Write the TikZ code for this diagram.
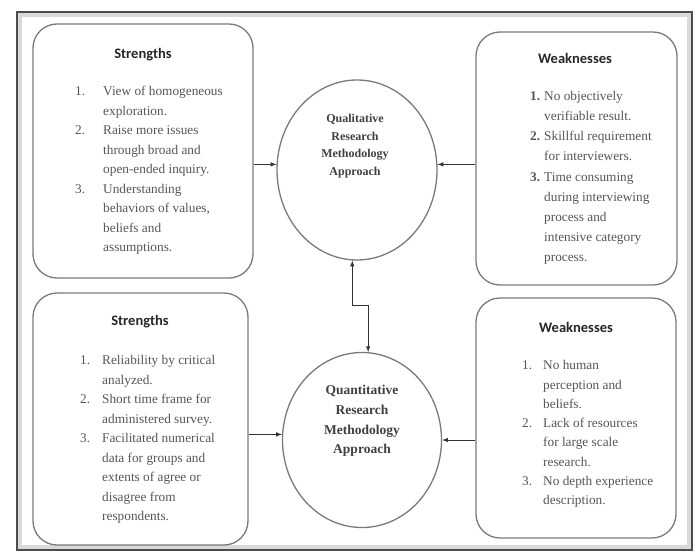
\documentclass[tikz,border=0pt]{standalone}
\usepackage{fontspec}
\setmainfont{Liberation Serif}
\newfontfamily\headfont{Carlito}
\usetikzlibrary{shapes.geometric}
\definecolor{boxgray}{HTML}{7A7A7A}
\definecolor{txtgray}{HTML}{555555}

\begin{document}
\begin{tikzpicture}[x=1pt,y=-1pt,
>=latex,
box/.style={rectangle,rounded corners=24pt,draw=boxgray,line width=1.3pt},
approach/.style={ellipse,draw=boxgray,line width=1.3pt,inner sep=0pt},
head/.style={font=\headfont\fontsize{14.5}{17}\selectfont\bfseries,text=black!85},
items/.style={anchor=north west,inner sep=0pt,text=txtgray,font=\fontsize{13.3}{19.5}\selectfont},
centre/.style={align=center,text=black!75},
link/.style={->,draw=black!80,line width=1pt}
]
\useasboundingbox (0,0) rectangle (696,554);
\draw[gray!30,line width=4pt] (20,15) rectangle (689,547);
\draw[black!70,line width=2pt] (17,12) rectangle (692,550);

\node[box,minimum width=220pt,minimum height=254pt] (strQual) at (143,151) {};
\node[head] (strQualHead) at (143,55) {Strengths};
\node[items] (strQualList) at (75,82) {\begin{tabular}{@{}p{28pt}@{}l@{}}
1. & View of homogeneous\\ & exploration.\\
2. & Raise more issues\\ & through broad and\\ & open-ended inquiry.\\
3. & Understanding\\ & behaviors of values,\\ & beliefs and\\ & assumptions.
\end{tabular}};

\node[box,minimum width=201pt,minimum height=253pt] (weakQual) at (576.5,158.5) {};
\node[head] (weakQualHead) at (575,58) {Weaknesses};
\node[items,font=\fontsize{13.3}{20.2}\selectfont] (weakQualList) at (530,86) {\begin{tabular}{@{}p{14pt}@{}l@{}}
\textbf{1.} & No objectively\\ & verifiable result.\\
\textbf{2.} & Skillful requirement\\ & for interviewers.\\
\textbf{3.} & Time consuming\\ & during interviewing\\ & process and\\ & intensive category\\ & process.
\end{tabular}};

\node[box,minimum width=215pt,minimum height=252pt] (strQuant) at (140.5,419) {};
\node[head] (strQuantHead) at (140,322) {Strengths};
\node[items] (strQuantList) at (80,351) {\begin{tabular}{@{}p{22pt}@{}l@{}}
1. & Reliability by critical\\ & analyzed.\\
2. & Short time frame for\\ & administered survey.\\
3. & Facilitated numerical\\ & data for groups and\\ & extents of agree or\\ & disagree from\\ & respondents.
\end{tabular}};

\node[box,minimum width=200pt,minimum height=240pt] (weakQuant) at (576,418) {};
\node[head] (weakQuantHead) at (576,327) {Weaknesses};
\node[items,font=\fontsize{13.3}{19.3}\selectfont] (weakQuantList) at (522,356) {\begin{tabular}{@{}p{21pt}@{}l@{}}
1. & No human\\ & perception and\\ & beliefs.\\
2. & Lack of resources\\ & for large scale\\ & research.\\
3. & No depth experience\\ & description.
\end{tabular}};

\node[approach,minimum width=160pt,minimum height=180pt] (qual) at (357,170) {};
\node[centre,font=\bfseries\fontsize{12}{17.5}\selectfont] (qualText) at (355,146) {Qualitative\\Research\\Methodology\\Approach};
\node[approach,minimum width=159pt,minimum height=175pt] (quant) at (362,440) {};
\node[centre,font=\bfseries\fontsize{13.5}{19.7}\selectfont] (quantText) at (362,421) {Quantitative\\Research\\Methodology\\Approach};

\draw[link] (strQual.east |- qual.176) -- (qual.176);
\draw[link] (weakQual.west |- qual.4) -- (qual.4);
\draw[link] (strQuant.east |- quant.176) -- (quant.176);
\draw[link] (weakQuant.west |- quant.0) -- (quant.0);
\draw[link,<->] (qual.-93) -- ++(0,45) -| (quant.86);
\end{tikzpicture}
\end{document}
